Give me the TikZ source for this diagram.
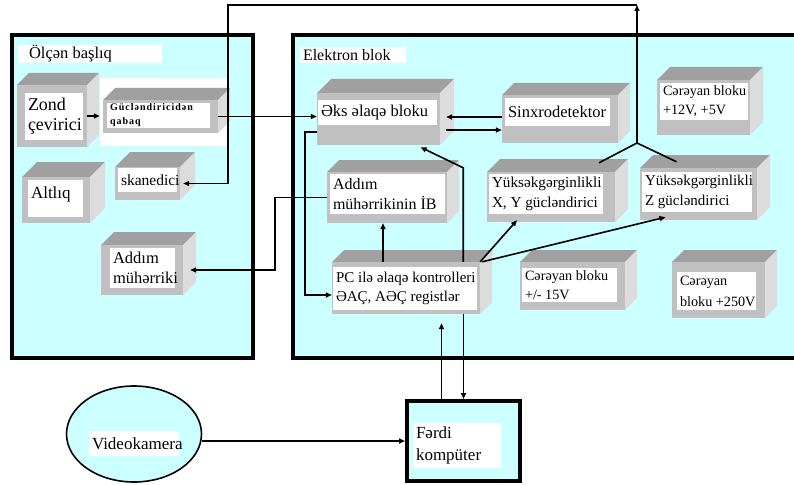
\documentclass[tikz,border=0pt]{standalone}
\usepackage{fontspec}
\setmainfont{Liberation Serif}
\usetikzlibrary{arrows.meta,shapes.geometric}
\definecolor{panelcyan}{HTML}{CCFFFF}
\definecolor{cubetopc}{HTML}{A0A0A0}
\definecolor{cubefrontc}{HTML}{C0C0C0}
\definecolor{cubesidec}{HTML}{DCDCDC}
\tikzset{
  cubetop/.style={fill=cubetopc},
  cubeside/.style={fill=cubesidec},
  cubefront/.style={fill=cubefrontc, draw=none, inner sep=0pt, rectangle},
  labbox/.style={fill=white, draw=none, inner sep=0pt, rectangle},
  labtext/.style={anchor=west, align=left, inner sep=0pt},
  panel/.style={fill=panelcyan, draw=none, inner sep=0pt, rectangle},
  thickborder/.style={line width=4pt},
  arr/.style={-{Triangle[length=6pt,width=5pt]}, line width=1.6pt},
  wire/.style={line width=1.6pt},
  fb/.style n args={2}{font=\fontsize{#1}{#2}\selectfont},
}
\newcommand\cube[6]{%
  \fill[cubetop] (#2,#3) -- (#2+#6,#3-#6) -- (#4+#6,#3-#6) -- (#4,#3) -- cycle;
  \fill[cubeside] (#4,#3) -- (#4+#6,#3-#6) -- (#4+#6,#5-#6) -- (#4,#5) -- cycle;
  \pgfmathsetmacro\cw{#4-#2}\pgfmathsetmacro\ch{#5-#3}%
  \pgfmathsetmacro\cx{(#2+#4)/2}\pgfmathsetmacro\cy{(#3+#5)/2}%
  \node[cubefront,minimum width=\cw pt,minimum height=\ch pt] (#1) at (\cx,\cy) {};
}
\newcommand\lab[7][]{%
  \pgfmathsetmacro\lw{#5-#3}\pgfmathsetmacro\lh{#6-#4}%
  \pgfmathsetmacro\lx{(#3+#5)/2}\pgfmathsetmacro\ly{(#4+#6)/2}%
  \node[labbox,minimum width=\lw pt,minimum height=\lh pt] (#2) at (\lx,\ly) {};
  \node[labtext,#1] (#2T) at ([xshift=3pt]#2.west) {#7};
}
\begin{document}
\begin{tikzpicture}[x=1pt,y=-1pt]
\useasboundingbox (0,0) rectangle (794,484);
% panels
\node[panel,minimum width=241pt,minimum height=323pt] (lp) at (132.5,196.5) {};
\draw[thickborder] (lp.north west) rectangle (lp.south east);
\node[panel,minimum width=501pt,minimum height=323pt] (rp) at (543.5,196.5) {};
\draw[thickborder] (rp.north east) -- (rp.north west) -- (rp.south west) -- (rp.south east);
\lab[fb={16.5}{19},xshift=8pt]{lpL}{18}{45}{162}{63}{Ölçən başlıq}
\lab[fb={16}{19}]{rpL}{300}{47}{406}{63}{Elektron blok}
\fill[white] (100,78) rectangle (228,146);
% cubes left
\cube{zond}{17}{85}{87}{147}{12}
\cube{guc}{103}{100}{218}{133}{12}
\cube{alt}{22}{177}{90}{223}{15}
\cube{skan}{115}{167}{180}{200}{15}
\cube{addm}{101}{245}{183}{295}{13}
% cubes right
\cube{eks}{317}{93}{440}{145}{14}
\cube{sinx}{502}{95}{618}{143}{12}
\cube{cA}{657}{80}{750}{135}{13}
\cube{ib}{327}{172}{447}{223}{12}
\cube{xy}{487}{172}{615}{222}{13}
\cube{zz}{640}{168}{757}{220}{13}
\cube{pc}{332}{262}{480}{314}{12}
\cube{cB}{520}{262}{625}{310}{12}
\cube{cC}{672}{262}{765}{318}{12}
% labels
\lab[fb={18}{20}]{zondL}{25}{93}{83}{140}{Zond\\çevirici}
\lab[font=\fontsize{10}{14}\selectfont\bfseries\addfontfeature{LetterSpace=10}]{gucL}{107}{103}{210}{128}{Gücləndiricidən\\qabaq}
\lab[fb={17}{19},yshift=4pt]{altL}{28}{180}{83}{217}{Altlıq}
\lab[fb={15.5}{18}]{skanL}{118}{168}{177}{192}{skanedici}
\lab[fb={16.5}{20}]{addmL}{110}{248}{175}{288}{Addım\\mühərriki}
\lab[fb={16.5}{19}]{eksL}{318}{100}{437}{125}{Əks əlaqə bloku}
\lab[fb={16.5}{19}]{sinxL}{505}{98}{610}{126}{Sinxrodetektor}
\lab[fb={14.2}{19}]{cAL}{660}{83}{748}{120}{Cərəyan bloku\\+12V, +5V}
\lab[fb={16}{20}]{ibL}{330}{174}{445}{214}{Addım\\mühərrikinin İB}
\lab[fb={15.2}{20}]{xyL}{489}{174}{603}{214}{Yüksəkgərginlikli\\X, Y gücləndirici}
\lab[fb={15}{20}]{zzL}{642}{172}{752}{212}{Yüksəkgərginlikli\\Z gücləndirici}
\lab[fb={15}{19}]{pcL}{333}{267}{477}{310}{PC ilə əlaqə kontrolleri\\ƏAÇ, AƏÇ registlər}
\lab[fb={14.2}{19}]{cBL}{522}{268}{617}{302}{Cərəyan bloku\\+/- 15V}
\lab[fb={14.2}{21}]{cCL}{677}{272}{756}{310}{Cərəyan\\bloku +250V}
% bottom nodes
\node[ellipse, draw, line width=1.6pt, fill=panelcyan, minimum width=135pt, minimum height=96pt, inner sep=0pt] (vid) at (134,434) {};
\lab[fb={17}{19}]{vidL}{89}{431}{179}{456}{Videokamera}
\node[rectangle, draw, thickborder, fill=panelcyan, minimum width=113pt, minimum height=80pt, inner sep=0pt] (fd) at (463.5,441) {};
\lab[fb={17}{22}]{fdL}{413}{423}{501}{468}{Fərdi\\kompüter}
% connectors
\draw[arr] (zond.east) -- ([xshift=-3pt]guc.west |- zond.east);
\draw[arr] (guc.east) -- (eks.west |- guc.east);
\draw[arr] ([yshift=2pt]sinx.west) -- ([xshift=6pt,yshift=2pt]eks.east);
\draw[arr] ([xshift=6pt,yshift=-11pt]eks.east) -- ([yshift=-11pt]sinx.west);
\draw[arr] ([xshift=-17pt]pc.north east) -- ++(0,-94) -- ([xshift=42pt,yshift=-2pt]eks.south);
\draw[arr] ([yshift=-13pt]eks.west) -- ++(-12,0) |- ([yshift=-7pt]pc.west);
\draw[arr] ([xshift=-23pt]pc.north) -- ([xshift=-23pt]pc.north |- ib.south);
\draw[arr] (ib.west) -- ++(-52,0) |- ([xshift=7pt]addm.east);
\draw[arr] (pc.north east) -- ([xshift=-34pt,yshift=2pt]xy.south);
\draw[arr] ([xshift=2pt]pc.north east) -- ([xshift=-33pt,yshift=3pt]zz.south);
\coordinate (jn) at (637,143);
\coordinate (tr) at (637,5);
\coordinate (tl) at (228,5);
\draw[wire] ([xshift=48pt,yshift=9pt]xy.north) -- (jn) -- ([xshift=-22pt,yshift=6pt]zz.north);
\draw[arr,line width=1.3pt] (jn) -- (tr);
\draw[arr,line width=1.3pt] (tr) -- (tl) -- (tl |- skan.east) -- ([xshift=3pt]skan.east);
\draw[arr] ([xshift=-22pt]fd.north) -- ([xshift=-22pt,yshift=-9pt]fd.north |- pc.south);
\draw[arr] (fd.north |- pc.south) -- (fd.north);
\draw[arr] (vid.east |- fd.west) -- (fd.west);
\end{tikzpicture}
\end{document}
